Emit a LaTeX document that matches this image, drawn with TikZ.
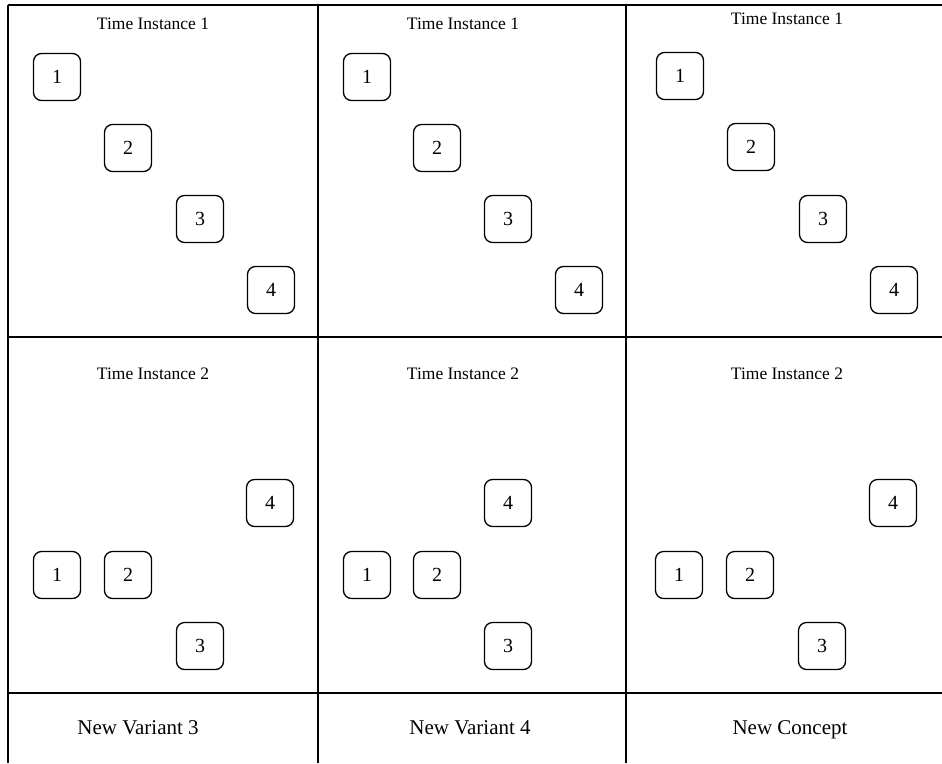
\documentclass[tikz,border=0pt]{standalone}
\usepackage{fontspec}
\setmainfont{Liberation Serif}
\begin{document}
\begin{tikzpicture}[x=1pt,y=-1pt,
  numbox/.style={draw,line width=1.3pt,rounded corners=8pt,minimum width=47pt,minimum height=47pt,inner sep=0pt,font=\fontsize{20}{20}\selectfont},
  ttl/.style={font=\fontsize{17.5}{18}\selectfont,inner sep=0pt,text height=12pt,text depth=0pt},
  lbl/.style={font=\fontsize{21}{22}\selectfont,inner sep=0pt,text height=14pt,text depth=0pt},
  grid/.style={line width=1.4pt}]
\useasboundingbox (0,0) rectangle (942,763);
% grid lines
\coordinate (tl) at (8,5);
\coordinate (tr) at (942,5);
\coordinate (ml) at (8,337);
\coordinate (mr) at (942,337);
\coordinate (bl) at (8,693);
\coordinate (br) at (942,693);
\coordinate (lb) at (8,763);
\coordinate (c1t) at (318,5);
\coordinate (c1b) at (318,763);
\coordinate (c2t) at (626,5);
\coordinate (c2b) at (626,763);
\draw[grid] (tl) -- (tr);
\draw[grid] (ml) -- (mr);
\draw[grid] (bl) -- (br);
\draw[grid] (tl) -- (lb);
\draw[line width=1.1pt] (c1t) -- (c1b);
\draw[line width=1.8pt] (c2t) -- (c2b);
% titles
\node[ttl] (t11) at (153,23) {Time Instance 1};
\node[ttl] (t12) at (463,23) {Time Instance 1};
\node[ttl] (t13) at (787,18) {Time Instance 1};
\node[ttl] (t21) at (153,373) {Time Instance 2};
\node[ttl] (t22) at (463,373) {Time Instance 2};
\node[ttl] (t23) at (787,373) {Time Instance 2};
% panel 1 top
\node[numbox] (a1) at (57,77) {1};
\node[numbox] (a2) at (128,148) {2};
\node[numbox] (a3) at (200,219) {3};
\node[numbox] (a4) at (271,290) {4};
% panel 2 top
\node[numbox] (b1) at (367,77) {1};
\node[numbox] (b2) at (437,148) {2};
\node[numbox] (b3) at (508,219) {3};
\node[numbox] (b4) at (579,290) {4};
% panel 3 top
\node[numbox] (c1) at (680,76) {1};
\node[numbox] (c2) at (751,147) {2};
\node[numbox] (c3) at (823,219) {3};
\node[numbox] (c4) at (894,290) {4};
% panel 1 bottom
\node[numbox] (d4) at (270,503) {4};
\node[numbox] (d1) at (57,575) {1};
\node[numbox] (d2) at (128,575) {2};
\node[numbox] (d3) at (200,646) {3};
% panel 2 bottom
\node[numbox] (e4) at (508,503) {4};
\node[numbox] (e1) at (367,575) {1};
\node[numbox] (e2) at (437,575) {2};
\node[numbox] (e3) at (508,646) {3};
% panel 3 bottom
\node[numbox] (f4) at (893,503) {4};
\node[numbox] (f1) at (679,575) {1};
\node[numbox] (f2) at (750,575) {2};
\node[numbox] (f3) at (822,646) {3};
% labels
\node[lbl] (l1) at (138,727) {New Variant 3};
\node[lbl] (l2) at (470,727) {New Variant 4};
\node[lbl] (l3) at (790,727) {New Concept};
\end{tikzpicture}
\end{document}
